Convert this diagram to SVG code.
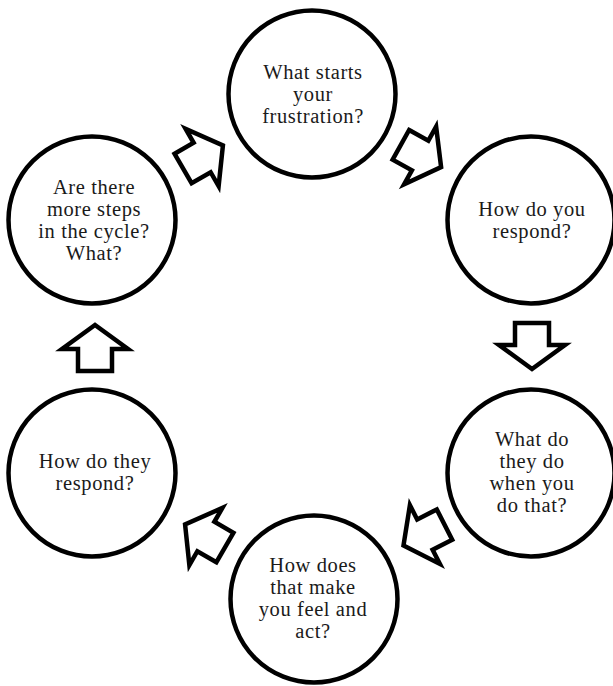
<svg xmlns="http://www.w3.org/2000/svg" width="613" height="686" viewBox="0 0 613 686">
  <defs>
    <style>
      .node circle { fill: #ffffff; stroke: #000000; stroke-width: 4.5; }
      .node text { font-family: "Liberation Serif", "Times New Roman", serif; font-size: 20.5px; fill: #1a1a1a; text-anchor: middle; letter-spacing: 0.6px; }
      .arrow { fill: #ffffff; stroke: #000000; stroke-width: 4.5; stroke-linejoin: miter; stroke-miterlimit: 10; }
    </style>
    <path id="blockArrow" d="M -23,-17 L -1,-17 L -1,-33 L 23,0 L -1,33 L -1,17 L -23,17 Z"/>
  </defs>
  <rect width="613" height="686" fill="#ffffff"/>

  <g id="connectors">
    <use href="#blockArrow" class="arrow" transform="translate(203,157) rotate(-30)"/>
    <use href="#blockArrow" class="arrow" transform="translate(421,156) rotate(29)"/>
    <use href="#blockArrow" class="arrow" transform="translate(532,346) rotate(90)"/>
    <use href="#blockArrow" class="arrow" transform="translate(424,535) rotate(153)"/>
    <use href="#blockArrow" class="arrow" transform="translate(205,536) rotate(210)"/>
    <use href="#blockArrow" class="arrow" transform="translate(95,348) rotate(-90)"/>
  </g>

  <g id="node-start" class="node">
    <circle cx="312" cy="94" r="83.5"/>
    <text x="313" y="79">What starts</text>
    <text x="313" y="101">your</text>
    <text x="313" y="123">frustration?</text>
  </g>

  <g id="node-you-respond" class="node">
    <circle cx="531" cy="220" r="83.5"/>
    <text x="532" y="216">How do you</text>
    <text x="532" y="238">respond?</text>
  </g>

  <g id="node-they-do" class="node">
    <circle cx="531" cy="473" r="83.5"/>
    <text x="532" y="446">What do</text>
    <text x="532" y="468">they do</text>
    <text x="532" y="490">when you</text>
    <text x="532" y="512">do that?</text>
  </g>

  <g id="node-feel-act" class="node">
    <circle cx="314" cy="599" r="83.5"/>
    <text x="313" y="572">How does</text>
    <text x="313" y="594">that make</text>
    <text x="313" y="616">you feel and</text>
    <text x="313" y="638">act?</text>
  </g>

  <g id="node-they-respond" class="node">
    <circle cx="92" cy="473" r="83.5"/>
    <text x="95" y="468">How do they</text>
    <text x="95" y="490">respond?</text>
  </g>

  <g id="node-more-steps" class="node">
    <circle cx="92" cy="220" r="83.5"/>
    <text x="94" y="194">Are there</text>
    <text x="94" y="216">more steps</text>
    <text x="94" y="238">in the cycle?</text>
    <text x="94" y="260">What?</text>
  </g>
</svg>
